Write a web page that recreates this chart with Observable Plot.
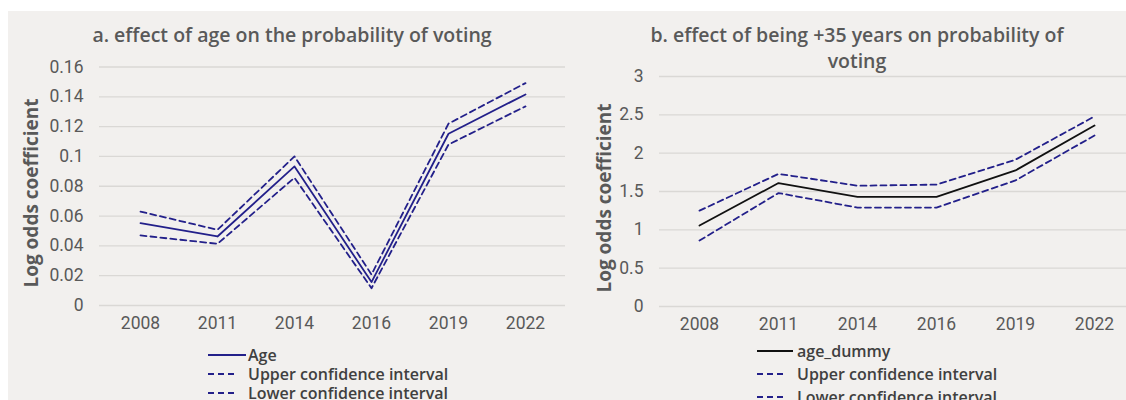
<!DOCTYPE html>
<html><head><meta charset="utf-8">
<script src="https://cdn.jsdelivr.net/npm/d3@7"></script>
<script src="https://cdn.jsdelivr.net/npm/@observablehq/plot@0.6"></script>
<style>
html,body{margin:0;padding:0;background:#fff;overflow:hidden;width:1126px;height:400px;}
#bg{position:absolute;left:8px;top:11px;width:1118px;height:389px;background:#f2f0ee;}
.abs{position:absolute;}
.title{font-family:"Open Sans";font-weight:600;font-size:19.5px;color:#595959;text-align:center;line-height:26px;}
.ylab{font-family:"Open Sans";font-weight:700;font-size:19px;color:#595959;white-space:nowrap;transform:translate(-50%,-50%) rotate(-90deg);}
.leg{font-family:"Open Sans";font-weight:600;font-size:16px;color:#404040;white-space:nowrap;}
</style></head><body>
<div id="bg"></div>
<div id="root"></div>
<script>
// ---- data ----
const years = ["2008", "2011", "2014", "2016", "2019", "2022"];
const ageCoef  = [0.0552, 0.0463, 0.0933, 0.0157, 0.1152, 0.1416];
const ageUpper = [0.0630, 0.0508, 0.1000, 0.0208, 0.1220, 0.1492];
const ageLower = [0.0470, 0.0414, 0.0857, 0.0116, 0.1080, 0.1336];
const dummyCoef  = [1.057, 1.61, 1.43, 1.43, 1.775, 2.36];
const dummyUpper = [1.25, 1.73, 1.575, 1.59, 1.915, 2.48];
const dummyLower = [0.86, 1.48, 1.29, 1.29, 1.645, 2.23];
const yTicksA = [0, 0.02, 0.04, 0.06, 0.08, 0.1, 0.12, 0.14, 0.16];
const yTicksB = [0, 0.5, 1, 1.5, 2, 2.5, 3];
const titleA = "a. effect of age on the probability of voting";
const titleB = "b. effect of being +35 years on probability of voting";
const yLabel = "Log odds coefficient";
const legendA = ["Age", "Upper confidence interval", "Lower confidence interval"];
const legendB = ["age_dummy", "Upper confidence interval", "Lower confidence interval"];

const navy = "#23208a";
const grid = "#dad8d5";
const dash = "6,4";

function rows(vals) { return years.map((y, i) => ({year: y, value: vals[i]})); }

function chart({width, marginLeft, marginRight, marginTop, marginBottom, domain, ticks, main, upper, lower, mainColor}) {
  return Plot.plot({
    width, height: 340,
    marginLeft, marginRight, marginTop, marginBottom,
    style: {background: "transparent", fontFamily: "Roboto", fontSize: "17.5px", color: "#595959", overflow: "visible"},
    x: {type: "point", domain: years, padding: 0.5, label: null},
    y: {domain, label: null},
    marks: [
      Plot.gridY(ticks, {stroke: grid, strokeOpacity: 1, strokeWidth: 1.3}),
      Plot.axisY(ticks, {tickSize: 0, tickPadding: 16, label: null, tickFormat: d3.format("~g"), fill: "#595959", fontSize: 17.5}),
      Plot.axisX({tickSize: 0, tickPadding: 11, label: null, fill: "#595959", fontSize: 17.5}),
      Plot.line(rows(upper), {x: "year", y: "value", stroke: navy, strokeWidth: 1.8, strokeDasharray: dash}),
      Plot.line(rows(lower), {x: "year", y: "value", stroke: navy, strokeWidth: 1.8, strokeDasharray: dash}),
      Plot.line(rows(main), {x: "year", y: "value", stroke: mainColor, strokeWidth: 1.8})
    ]
  });
}

const root = document.getElementById("root");
function place(el, left, top, w) {
  const d = document.createElement("div");
  d.className = "abs";
  d.style.left = left + "px"; d.style.top = top + "px";
  if (w) d.style.width = w + "px";
  d.appendChild(el);
  root.appendChild(d);
  return d;
}

const A = chart({width: 575, marginLeft: 99, marginRight: 10, marginTop: 66.5, marginBottom: 35,
  domain: [0, 0.16], ticks: yTicksA, main: ageCoef, upper: ageUpper, lower: ageLower, mainColor: navy});
place(A, 0, 0, 575);

const B = chart({width: 558, marginLeft: 84, marginRight: 0, marginTop: 76, marginBottom: 34,
  domain: [0, 3], ticks: yTicksB, main: dummyCoef, upper: dummyUpper, lower: dummyLower, mainColor: "#111"});
place(B, 575, 0, 558);

function title(text, cx, top, w) {
  const d = document.createElement("div");
  d.className = "abs title";
  d.style.left = (cx - w / 2) + "px"; d.style.top = top + "px"; d.style.width = w + "px";
  d.textContent = text;
  root.appendChild(d);
}
title(titleA, 292, 22, 540);
title(titleB, 857, 22, 450);

function ylab(cx, cy) {
  const d = document.createElement("div");
  d.className = "abs ylab";
  d.style.left = cx + "px"; d.style.top = cy + "px";
  d.textContent = yLabel;
  root.appendChild(d);
}
ylab(31, 193);
ylab(604, 198);

function legend(labels, mainColor, x0, textX, ys, solidLen) {
  labels.forEach((lab, i) => {
    const ns = "http://www.w3.org/2000/svg";
    const svg = document.createElementNS(ns, "svg");
    svg.setAttribute("width", textX - x0); svg.setAttribute("height", 16);
    svg.style.position = "absolute"; svg.style.left = x0 + "px"; svg.style.top = (ys[i] - 8) + "px";
    const l = document.createElementNS(ns, "line");
    l.setAttribute("y1", 8); l.setAttribute("y2", 8); l.setAttribute("x1", 0);
    l.setAttribute("stroke-width", 1.8);
    if (i === 0) { l.setAttribute("x2", solidLen); l.setAttribute("stroke", mainColor); }
    else { l.setAttribute("x2", 30); l.setAttribute("stroke", navy); l.setAttribute("stroke-dasharray", dash); }
    svg.appendChild(l);
    root.appendChild(svg);
    const t = document.createElement("div");
    t.className = "abs leg";
    t.style.left = textX + "px"; t.style.top = (ys[i] - 9) + "px"; t.style.lineHeight = "18px";
    t.textContent = lab;
    root.appendChild(t);
  });
}
legend(legendA, navy, 208, 248, [355, 374, 393], 38);
legend(legendB, "#111", 757, 797, [351, 374, 397], 36);
</script>
</body></html>
